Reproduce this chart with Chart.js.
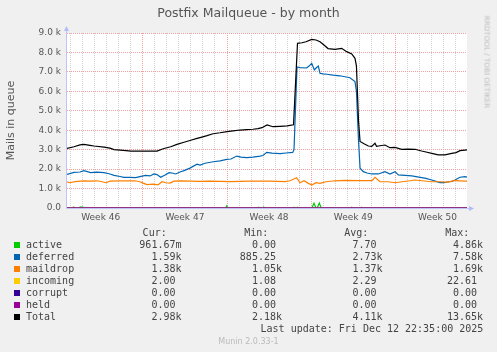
<!DOCTYPE html>
<html><head><meta charset="utf-8">
<script src="https://cdn.jsdelivr.net/npm/chart.js@4/dist/chart.umd.min.js"></script>
<style>
html,body{margin:0;padding:0;background:#f0f0f0;}
#wrap{position:relative;width:497px;height:352px;overflow:hidden;background:#f0f0f0;}
canvas{position:absolute;left:0;top:0;}
.t{position:absolute;white-space:pre;font-family:"DejaVu Sans";color:#555;}
.m{position:absolute;white-space:pre;font-family:"DejaVu Sans Mono";font-size:10px;line-height:12px;color:#444;}
.sq{position:absolute;width:6px;height:6px;}
</style></head><body>
<div id="wrap"><canvas id="c" width="497" height="352"></canvas></div>
<script>
// ---- data (x = days since left edge of graph) ----
const weekLabels = ['Week 46','Week 47','Week 48','Week 49','Week 50'];
const weekLabelDays = [2.8, 9.8, 16.8, 23.8, 30.8];
const weekBoundaryDays = [6.3, 13.3, 20.3, 27.3];
const yTickLabels = ['0.0','1.0 k','2.0 k','3.0 k','4.0 k','5.0 k','6.0 k','7.0 k','8.0 k','9.0 k'];

const totalDays = [0.00,0.58,1.08,1.41,1.91,2.24,3.08,3.57,3.91,4.41,4.91,5.32,6.15,6.90,7.48,8.06,8.62,9.14,9.73,10.22,10.81,11.06,11.64,12.14,12.72,13.30,13.80,14.38,14.96,15.46,15.88,16.21,16.63,17.12,17.71,18.29,18.83,19.16,19.53,19.87,20.34,20.70,21.03,21.36,21.70,22.28,22.83,23.25,23.67,23.94,24.06,24.23,24.36,24.69,25.05,25.33,25.60,25.73,26.02,26.43,26.85,27.27,27.82,28.35,28.93,29.48,29.84,30.32,30.86,31.42,31.98,32.34,32.67,33.08,33.25];
const totalValues = [3070,3150,3250,3270,3220,3190,3130,3080,3000,2980,2950,2930,2930,2930,2930,3060,3150,3270,3380,3470,3580,3620,3720,3820,3870,3930,3970,4010,4030,4050,4080,4130,4270,4180,4200,4220,4280,8470,8500,8550,8670,8640,8550,8380,8200,8160,8210,8040,7920,7700,7300,4500,3420,3300,3190,3170,3330,3170,3200,3240,3100,3120,3020,3030,3020,2930,2880,2810,2730,2730,2810,2850,2950,2980,2990];

const deferredDays = [0.00,0.58,1.08,1.41,1.97,2.49,3.08,3.57,3.91,4.41,4.74,5.24,5.71,6.15,6.54,6.90,7.23,7.48,7.79,8.15,8.48,8.73,9.04,9.39,9.73,10.22,10.81,11.06,11.47,12.16,12.72,13.28,13.63,14.11,14.46,14.94,15.46,16.04,16.29,16.60,17.04,17.71,18.21,18.76,18.87,19.12,19.37,19.92,20.12,20.34,20.56,20.70,20.89,21.03,21.28,21.59,22.11,22.69,23.11,23.52,23.94,24.06,24.23,24.36,24.63,24.94,25.33,25.88,26.43,26.85,27.27,27.54,28.10,28.66,29.48,29.84,30.32,30.67,31.01,31.34,31.70,32.00,32.25,32.67,33.08,33.25];
const deferredValues = [1730,1830,1850,1920,1820,1840,1820,1750,1680,1620,1580,1570,1560,1630,1680,1650,1750,1720,1580,1700,1820,1800,1750,1850,1920,2050,2250,2210,2300,2380,2420,2500,2520,2670,2620,2590,2620,2670,2700,2860,2820,2800,2830,2860,3000,7250,7220,7200,7300,7440,7100,7200,7300,6930,6900,6880,6830,6800,6750,6700,6500,6000,3500,2050,1870,1800,1750,1750,1870,1750,1870,1700,1680,1650,1560,1520,1440,1370,1300,1300,1350,1370,1440,1580,1610,1590];

const maildropDays = [0.00,0.25,0.67,1.41,1.91,2.49,2.91,3.24,3.57,4.41,5.65,6.07,6.32,6.65,7.15,7.56,7.90,8.23,8.56,8.89,9.39,11.06,11.89,12.72,13.55,15.21,16.87,18.12,18.54,19.09,19.37,19.70,20.03,20.34,20.70,21.03,21.53,22.28,23.11,24.36,25.36,25.60,26.02,26.68,27.27,27.85,28.51,28.93,29.51,30.32,31.01,31.67,32.25,32.67,33.08,33.25];
const maildropValues = [1340,1300,1360,1400,1380,1400,1350,1300,1380,1400,1400,1350,1280,1200,1230,1190,1350,1300,1280,1380,1400,1370,1380,1370,1360,1380,1380,1360,1400,1560,1300,1400,1280,1180,1300,1270,1350,1400,1420,1410,1410,1580,1350,1350,1300,1350,1400,1440,1400,1350,1350,1330,1420,1400,1380,1380];

const activeDays = [0,0.45,0.55,0.65,1.0,1.1,1.2,1.3,1.4,13.2,13.28,13.36,15.85,15.92,16.0,16.3,16.37,16.45,18.8,18.87,18.95,19.1,19.17,19.25,20.35,20.53,20.7,20.8,20.97,21.14,23.6,23.67,23.75,24.4,24.47,24.55,33.25];
const activeValues = [0,0,50,0,0,50,30,50,0,0,110,0,0,40,0,0,40,0,0,40,0,0,40,0,0,250,0,0,250,0,0,40,0,0,40,0,1];

const incomingDays = [0, 10, 20, 33.25];
const incomingValues = [2.2, 2.4, 2.3, 2.0];
const corruptDays = [0, 33.25];
const corruptValues = [0, 0];
const heldDays = [0, 33.25];
const heldValues = [0, 0];

const seriesNames = ['active','deferred','maildrop','incoming','corrupt','held','Total'];
const seriesColors = ['#00cc00','#0066b3','#ff8000','#ffcc00','#330099','#990099','#000000'];
const curValues = ['961.67m','1.59k','1.38k','2.00 ','0.00 ','0.00 ','2.98k'];
const minValues = ['0.00 ','885.25 ','1.05k','1.08 ','0.00 ','0.00 ','2.18k'];
const avgValues = ['7.70 ','2.73k','1.37k','2.29 ','0.00 ','0.00 ','4.11k'];
const maxValues = ['4.86k','7.58k','1.69k','22.61 ','0.00 ','0.00 ','13.65k'];

// ---- chart ----
const pts = (xs, ys) => xs.map((x, i) => ({x: x, y: ys[i]}));
const seriesData = [
  pts(activeDays, activeValues), pts(deferredDays, deferredValues), pts(maildropDays, maildropValues),
  pts(incomingDays, incomingValues), pts(corruptDays, corruptValues), pts(heldDays, heldValues),
  pts(totalDays, totalValues)
];
const datasets = seriesNames.map((n, i) => ({
  label: n, data: seriesData[i], borderColor: seriesColors[i], backgroundColor: seriesColors[i],
  borderWidth: 1.2, pointRadius: 0, tension: 0, fill: false, order: 6 - i
}));

const AXIS = '#c0c4f4';
const isNear = (a, list) => list.some(v => Math.abs(v - a) < 0.01);
const dayTicks = [];
for (let d = 0.3; d < 33.25; d += 1) dayTicks.push(Math.round(d * 100) / 100);

const decor = {
  id: 'decor',
  beforeDraw(chart) {
    const {ctx, chartArea: a} = chart;
    ctx.save();
    ctx.fillStyle = '#ffffff';
    ctx.fillRect(a.left, a.top, a.right - a.left, a.bottom - a.top);
    ctx.restore();
  },
  beforeDatasetsDraw(chart) {
    const {ctx, chartArea: a} = chart;
    ctx.save();
    ctx.strokeStyle = AXIS; ctx.lineWidth = 1;
    ctx.beginPath();
    ctx.moveTo(a.left - 0.5, a.bottom + 0.5); ctx.lineTo(a.left - 0.5, a.top - 3);
    ctx.moveTo(a.left - 0.5, a.bottom + 0.5); ctx.lineTo(a.right + 3, a.bottom + 0.5);
    ctx.stroke();
    ctx.fillStyle = '#b4bcf8';
    ctx.beginPath();
    ctx.moveTo(a.left - 0.5, a.top - 7); ctx.lineTo(a.left - 3, a.top - 2); ctx.lineTo(a.left + 2, a.top - 2); ctx.closePath(); ctx.fill();
    ctx.beginPath();
    ctx.moveTo(a.right + 7, a.bottom + 0.5); ctx.lineTo(a.right + 2, a.bottom - 2); ctx.lineTo(a.right + 2, a.bottom + 3); ctx.closePath(); ctx.fill();
    ctx.restore();
  }
};

Chart.defaults.font.family = 'DejaVu Sans';
new Chart(document.getElementById('c'), {
  type: 'line',
  data: {datasets: datasets},
  plugins: [decor],
  options: {
    responsive: false, animation: false, devicePixelRatio: 1,
    layout: {padding: {left: 0, right: 30, top: 33, bottom: 124}},
    plugins: {legend: {display: false}, tooltip: {enabled: false}, title: {display: false}},
    scales: {
      x: {
        type: 'linear', min: 0, max: 33.25,
        afterFit(s) { s.height = 20; },
        afterBuildTicks(s) {
          s.ticks = dayTicks.concat(weekLabelDays).sort((p, q) => p - q).map(v => ({value: v}));
        },
        ticks: {
          autoSkip: false, maxRotation: 0, minRotation: 0, padding: 4, color: '#555', font: {size: 9},
          callback(v) { const i = weekLabelDays.findIndex(w => Math.abs(w - v) < 0.01); return i >= 0 ? weekLabels[i] : ''; }
        },
        grid: {
          drawTicks: false, lineWidth: 1,
          color(ctx) {
            const v = ctx.tick ? ctx.tick.value : 0;
            if (isNear(v, weekLabelDays)) return 'rgba(0,0,0,0)';
            return isNear(v, weekBoundaryDays) ? '#f0a0a0' : '#d2d2d2';
          }
        },
        border: {display: false, dash: [1, 1]}
      },
      y: {
        type: 'linear', min: 0, max: 9000,
        afterFit(s) { s.width = 67; },
        ticks: {
          stepSize: 500, maxTicksLimit: 100, padding: 6, color: '#555', font: {size: 9},
          callback(v) { return v % 1000 === 0 ? yTickLabels[v / 1000] : ''; }
        },
        grid: {
          drawTicks: false, lineWidth: 1,
          color(ctx) { const v = ctx.tick ? ctx.tick.value : 0; return v % 1000 === 0 ? '#f0a0a0' : '#d2d2d2'; }
        },
        border: {display: false, dash: [1, 1]},
        title: {display: true, text: 'Mails in queue', color: '#555', font: {size: 11}, padding: {top: 4.4, bottom: 0}}
      }
    }
  }
});

// ---- text around the chart ----
const wrap = document.getElementById('wrap');
function addText(txt, cls, style) {
  const d = document.createElement('div'); d.className = cls; d.textContent = txt;
  Object.assign(d.style, style); wrap.appendChild(d); return d;
}
addText('Postfix Mailqueue - by month', 't', {left: '0px', width: '497px', textAlign: 'center', top: '5.2px', fontSize: '12.5px', lineHeight: '15px'});
addText('RRDTOOL / TOBI OETIKER', 't', {left: '487.3px', top: '61.7px', fontSize: '7.2px', lineHeight: '9px', color: '#bbb', transform: 'translate(-50%,-50%) rotate(90deg)'});

const colRight = [181.5, 282, 382.5, 483];
const headRight = [166.7, 268.3, 368.3, 469.3];
const heads = ['Cur:', 'Min:', 'Avg:', 'Max:'];
heads.forEach((h, j) => addText(h, 'm', {right: (497 - headRight[j]) + 'px', top: '226.9px'}));
const cols = [curValues, minValues, avgValues, maxValues];
seriesNames.forEach((n, i) => {
  const top = 238.8 + 12 * i;
  const sq = document.createElement('div'); sq.className = 'sq';
  Object.assign(sq.style, {left: '14px', top: (242 + 12 * i) + 'px', background: seriesColors[i]});
  wrap.appendChild(sq);
  addText(n, 'm', {left: '26px', top: top + 'px'});
  cols.forEach((c, j) => addText(c[i], 'm', {right: (497 - colRight[j]) + 'px', top: top + 'px'}));
});
addText('Last update: Fri Dec 12 22:35:00 2025', 'm', {right: (497 - 483.3) + 'px', top: '322.8px'});
addText('Munin 2.0.33-1', 't', {left: '0px', width: '497px', textAlign: 'center', top: '336.5px', fontSize: '8px', lineHeight: '10px', color: '#bbb'});
</script>
</body></html>
